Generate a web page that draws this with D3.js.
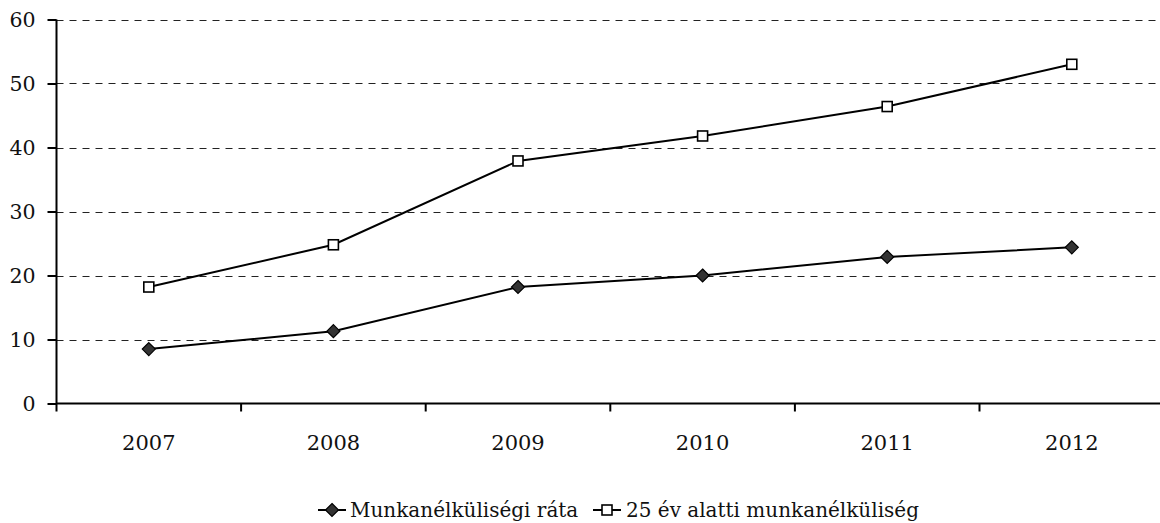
<!DOCTYPE html>
<html><head><meta charset="utf-8">
<script src="https://cdn.jsdelivr.net/npm/d3@7"></script>
<style>body{margin:0;background:#fff}svg{display:block}text{font-family:"DejaVu Serif",serif;fill:#111}</style>
</head><body><div id="c"></div>
<script>
const categories = ["2007","2008","2009","2010","2011","2012"];
const seriesNames = ["Munkanélküliségi ráta","25 év alatti munkanélküliség"];
const totalRate = [8.5, 11.3, 18.2, 20.0, 22.9, 24.4];
const youthRate = [18.2, 24.8, 37.9, 41.8, 46.4, 53.0];
const yTicks = [0,10,20,30,40,50,60];

const W=1160,H=523;
const svg=d3.select("#c").append("svg").attr("width",W).attr("height",H);
const x0=56.5, bw=184.6;
const x=d3.scaleBand().domain(categories).range([x0,x0+bw*categories.length]);
const y=d3.scaleLinear().domain([0,60]).range([403.5,19.5]);

// gridlines
svg.append("g").selectAll("line").data(yTicks.filter(d=>d>0)).join("line")
 .attr("x1",x0).attr("x2",W).attr("y1",d=>Math.round(y(d))+0.5).attr("y2",d=>Math.round(y(d))+0.5)
 .attr("stroke","#222").attr("stroke-width",1).attr("stroke-dasharray","7,6");

// y axis
const ya=svg.append("g").attr("transform",`translate(${x0},0)`).call(d3.axisLeft(y).tickValues(yTicks).tickSize(9).tickPadding(12));
ya.select(".domain").attr("stroke","#000").attr("stroke-width",2).attr("d",`M0,${y(60)}V${y(0)+8}`);
ya.selectAll(".tick line").attr("stroke","#000").attr("stroke-width",2);
ya.selectAll(".tick text").style("font-size","20.5px").style("font-family",'"DejaVu Serif",serif').attr("fill","#111");

// x axis
const xa=svg.append("g").attr("transform",`translate(0,${y(0)})`);
xa.append("line").attr("x1",x0).attr("x2",W).attr("stroke","#000").attr("stroke-width",2);
xa.selectAll(".tk").data(categories.slice(1).concat(["_"])).join("line")
 .attr("x1",(d,i)=>x0+bw*(i+1)).attr("x2",(d,i)=>x0+bw*(i+1)).attr("y1",0).attr("y2",8).attr("stroke","#000").attr("stroke-width",2);
xa.selectAll(".lbl").data(categories).join("text")
 .attr("x",d=>x(d)+x.bandwidth()/2).attr("y",46.5).attr("text-anchor","middle")
 .style("font-size","21px").text(d=>d);

const cx=d=>x(d)+x.bandwidth()/2;
const line=d3.line().x((d,i)=>cx(categories[i])).y(d=>y(d));
svg.append("path").attr("d",line(totalRate)).attr("fill","none").attr("stroke","#000").attr("stroke-width",2);
svg.append("path").attr("d",line(youthRate)).attr("fill","none").attr("stroke","#000").attr("stroke-width",2);

const diamond=(s,px,py)=>s.append("path").attr("d",`M${px},${py-6.5}L${px+6.5},${py}L${px},${py+6.5}L${px-6.5},${py}Z`).attr("fill","#333").attr("stroke","#000").attr("stroke-width",1.2);
const square=(s,px,py)=>s.append("rect").attr("x",px-5).attr("y",py-5).attr("width",10).attr("height",10).attr("fill","#fff").attr("stroke","#000").attr("stroke-width",1.6);

totalRate.forEach((v,i)=>diamond(svg,cx(categories[i]),y(v)));
youthRate.forEach((v,i)=>square(svg,cx(categories[i]),y(v)));

// legend
const ly=510;
const lg=svg.append("g");
lg.append("line").attr("x1",318).attr("x2",346).attr("y1",ly).attr("y2",ly).attr("stroke","#000").attr("stroke-width",2);
diamond(lg,332,ly);
lg.append("text").attr("x",350).attr("y",ly+7).style("font-size","20px").text(seriesNames[0]);
lg.append("line").attr("x1",593).attr("x2",621).attr("y1",ly).attr("y2",ly).attr("stroke","#000").attr("stroke-width",2);
square(lg,607,ly);
lg.append("text").attr("x",626).attr("y",ly+7).style("font-size","20px").text(seriesNames[1]);
</script></body></html>
